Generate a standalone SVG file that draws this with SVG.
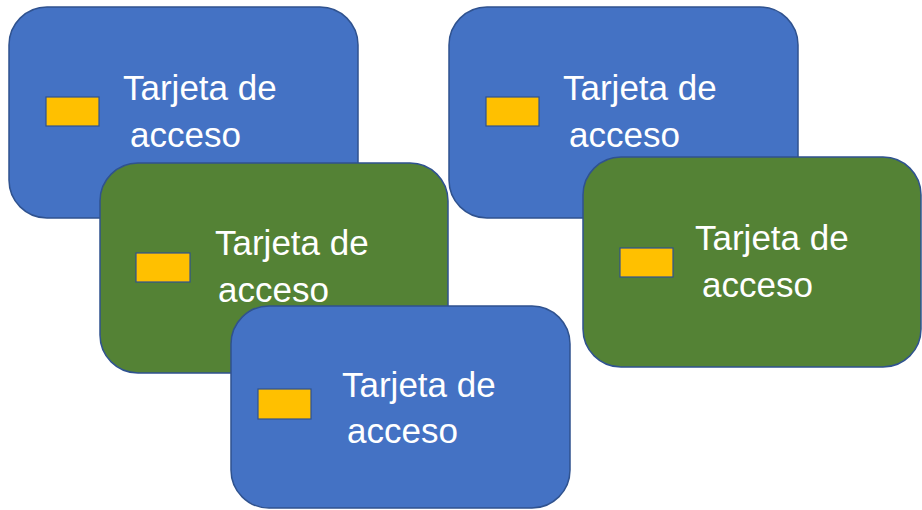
<svg xmlns="http://www.w3.org/2000/svg" width="922" height="510" viewBox="0 0 922 510">
<style>
.blue{fill:#4472C4;stroke:#2F528F;stroke-width:1.5}
.green{fill:#548235;stroke:#2F528F;stroke-width:1.5}
.chip{fill:#FFC000;stroke:#2F528F;stroke-width:1.2}
.t{font-family:"Liberation Sans",Arial,sans-serif;font-size:35px;fill:#FFFFFF}
</style>
<rect width="922" height="510" fill="#FFFFFF"/>
<g id="card1">
<rect class="blue" x="9" y="7" width="349" height="211" rx="38"/>
<rect class="chip" x="46" y="97" width="53" height="29"/>
<text class="t" x="123" y="100">Tarjeta de</text>
<text class="t" x="130" y="147">acceso</text>
</g>
<g id="card4">
<rect class="blue" x="449" y="7" width="349" height="211" rx="38"/>
<rect class="chip" x="486" y="97" width="53" height="29"/>
<text class="t" x="563" y="100">Tarjeta de</text>
<text class="t" x="569" y="147">acceso</text>
</g>
<g id="card2">
<rect class="green" x="100" y="163" width="348" height="210" rx="38"/>
<rect class="chip" x="136" y="253" width="54" height="29"/>
<text class="t" x="215" y="255">Tarjeta de</text>
<text class="t" x="218" y="302">acceso</text>
</g>
<g id="card5">
<rect class="green" x="583" y="157" width="338" height="210" rx="38"/>
<rect class="chip" x="620" y="248" width="53" height="29"/>
<text class="t" x="695" y="250">Tarjeta de</text>
<text class="t" x="702" y="297">acceso</text>
</g>
<g id="card3">
<rect class="blue" x="231" y="306" width="339" height="202" rx="38"/>
<rect class="chip" x="258" y="389" width="53" height="30"/>
<text class="t" x="342" y="397">Tarjeta de</text>
<text class="t" x="347" y="443">acceso</text>
</g>
<g id="connectors"/>
</svg>
